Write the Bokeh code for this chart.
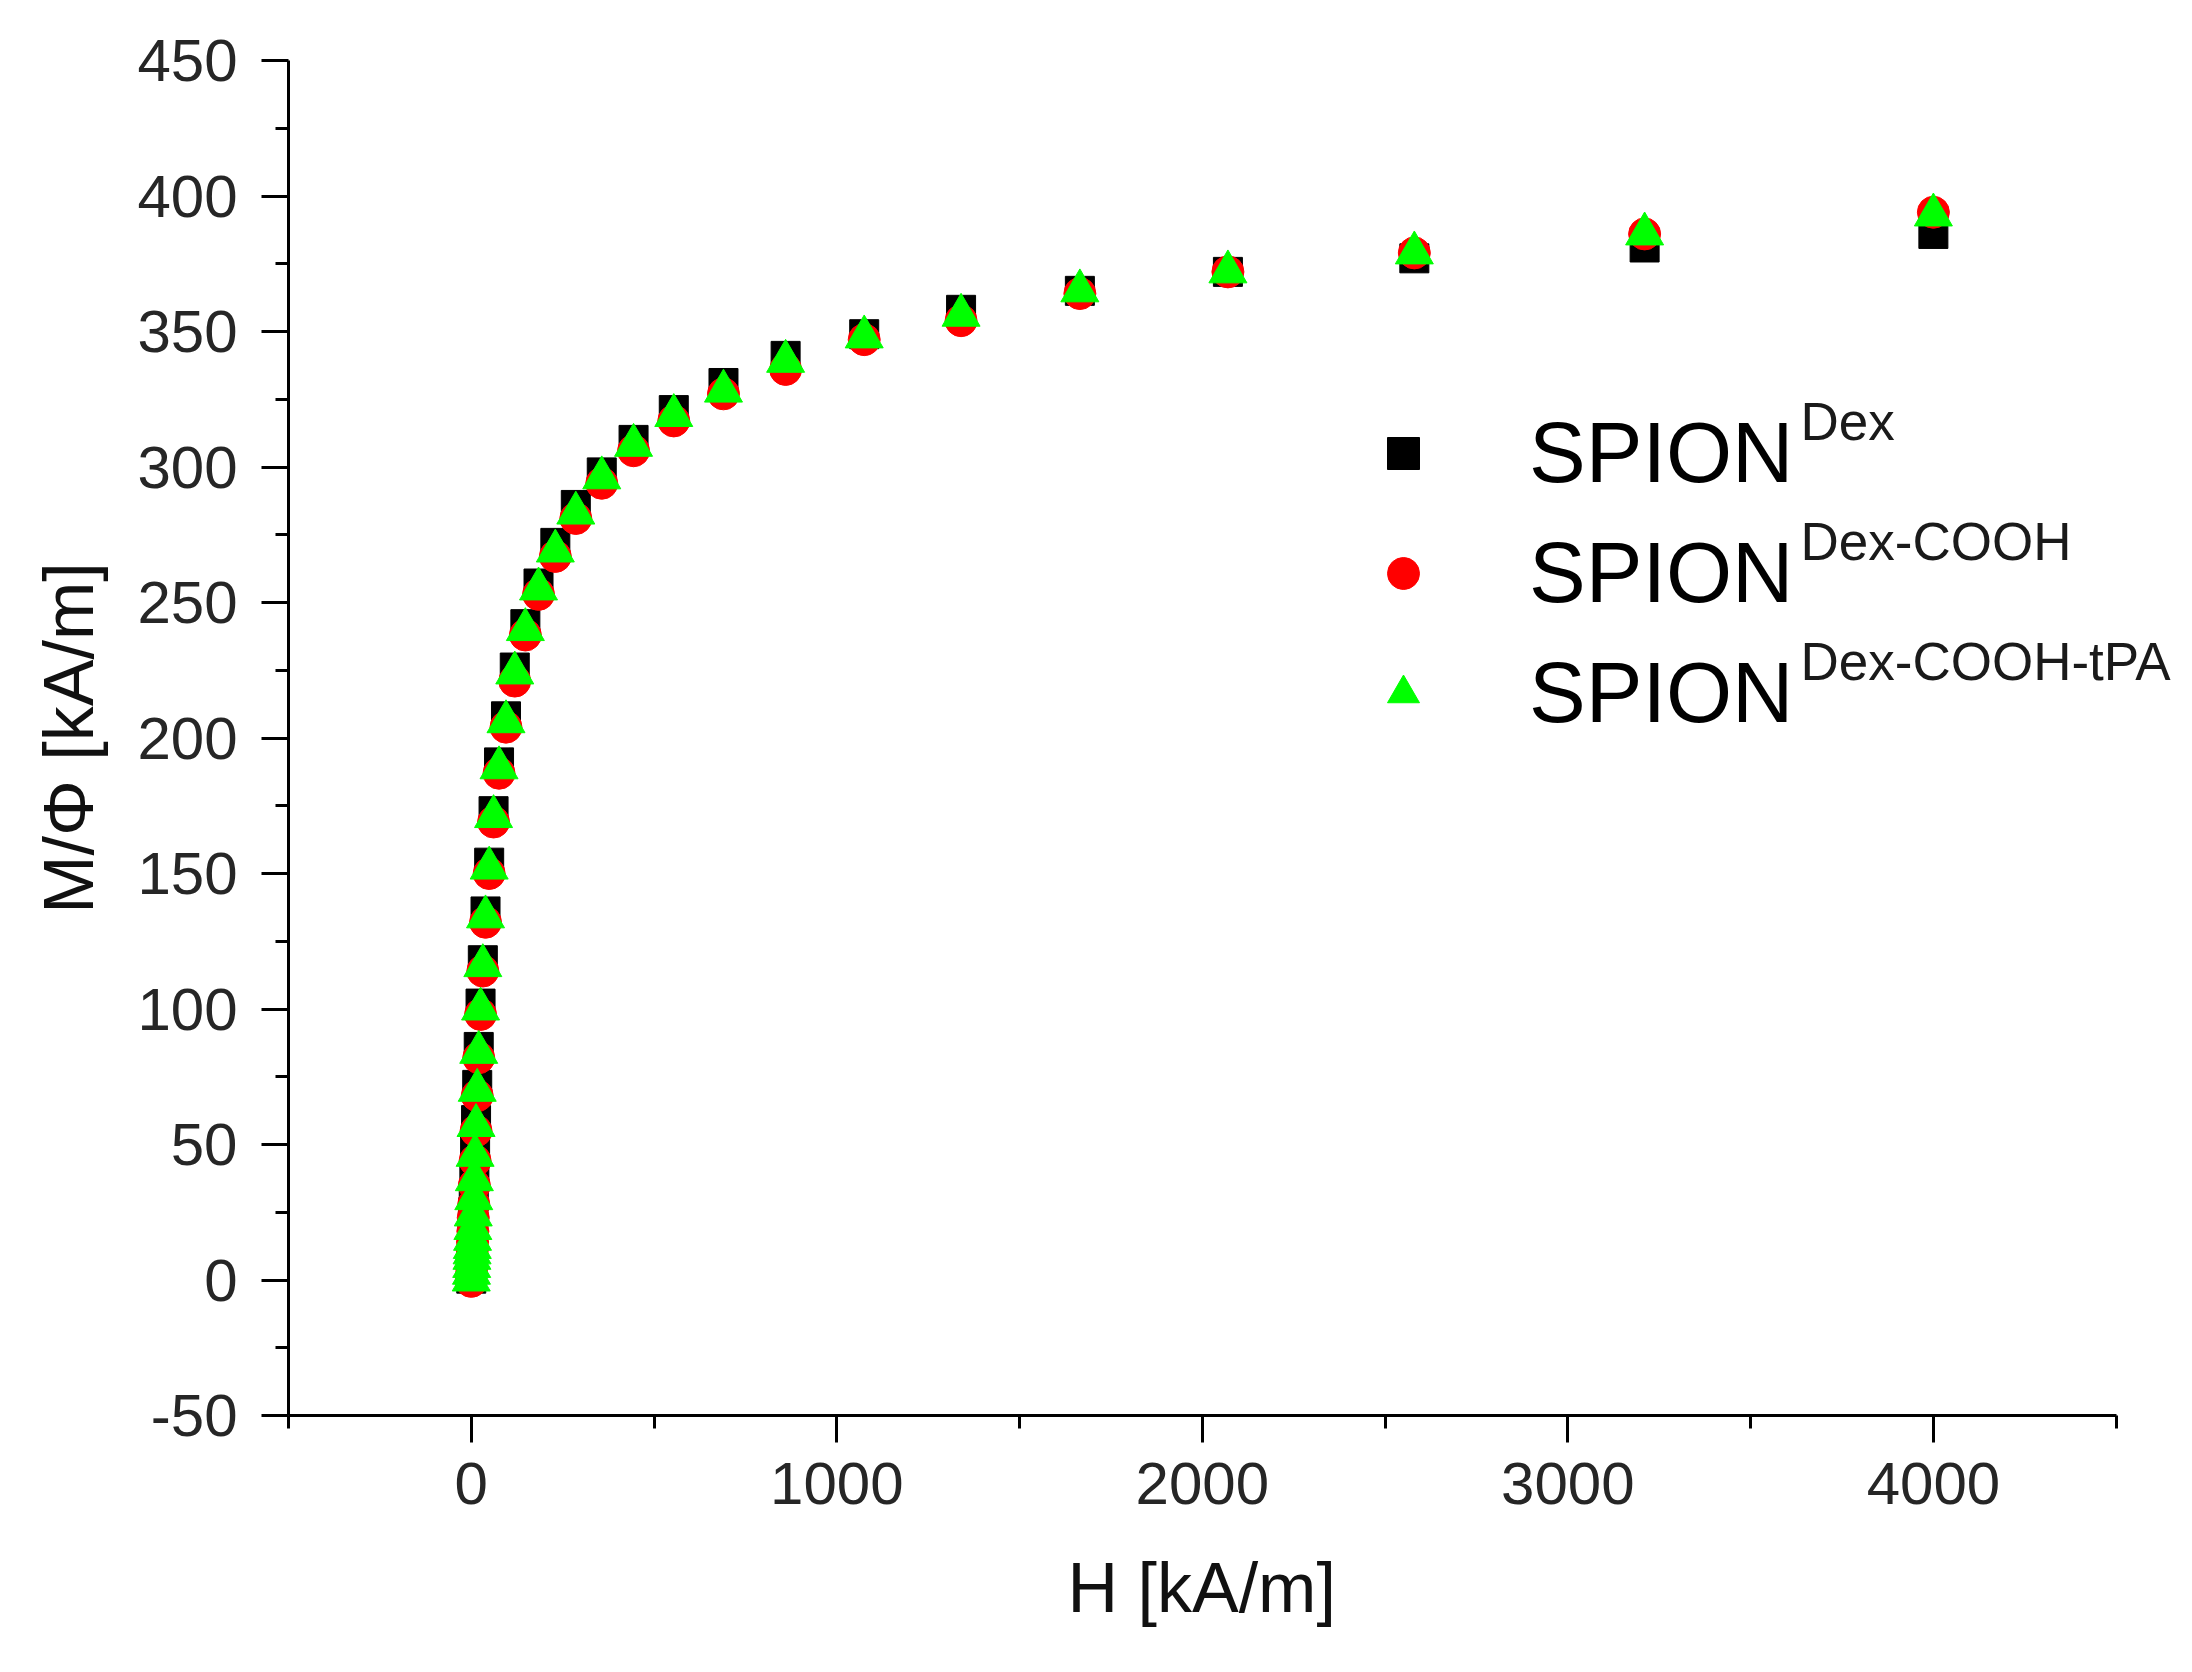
from bokeh.plotting import figure
from bokeh.models import Range1d, FixedTicker, Legend, LegendItem, Label, Title, ColumnDataSource
from bokeh.embed import file_html
from bokeh.resources import INLINE

# ---- data ----
H = [0.0, 0.6, 1.2, 1.8, 2.3, 2.8, 3.5, 4.4, 5.4, 6.8, 8.5, 10.5, 13.1, 16.3, 20.4,
     25.4, 31.6, 39, 49, 61, 76, 95, 119, 148, 184, 230, 286, 357, 444, 554, 690,
     860, 1075, 1340, 1665, 2070, 2580, 3210, 4000]

M_dex = [0.5, 3, 6, 8.5, 10.5, 13, 16, 20, 25, 31, 39, 48, 59, 72, 86,
         102, 118, 136, 154, 173, 191, 208, 226, 242, 257, 272, 286, 298, 310, 321, 331,
         341, 349, 358, 365, 372, 377, 381, 386]

M_cooh = [-0.5, 2, 4.5, 7, 9, 11, 14, 18, 23, 28, 35, 44, 55, 68, 82,
          98, 114, 132, 150, 169, 187, 204, 221, 238, 253, 267, 281, 294, 306, 317, 327,
          336, 347, 354, 364, 372, 379, 386, 394]

M_tpa = [0, 2.5, 5, 8, 10, 12, 15, 19, 24, 30, 37, 46, 57, 70, 84,
         100, 116, 134, 152, 171, 189, 206, 224, 240, 255, 269, 283, 296, 308, 319, 328,
         339, 348, 356, 365, 372, 379, 386, 393]

x_major = [0, 1000, 2000, 3000, 4000]
x_minor = [-500, 500, 1500, 2500, 3500, 4500]
y_major = [-50, 0, 50, 100, 150, 200, 250, 300, 350, 400, 450]
y_minor = [-25, 25, 75, 125, 175, 225, 275, 325, 375, 425]
y_labels = {v: str(v) for v in y_major}

series_names = ["SPION", "SPION", "SPION"]
series_sup = ["Dex", "Dex-COOH", "Dex-COOH-tPA"]

FONT = "Liberation Sans"

p = figure(width=2184, height=1670, output_backend="svg", toolbar_location=None,
           x_range=Range1d(-500, 4687), y_range=Range1d(-50, 450),
           min_border_left=288, min_border_right=0, min_border_top=60, min_border_bottom=253)
p.xgrid.visible = False
p.ygrid.visible = False
p.outline_line_color = None
p.background_fill_color = "white"
p.border_fill_color = "white"

src = ColumnDataSource(dict(H=H, a=M_dex, b=M_cooh, c=M_tpa))
r1 = p.scatter("H", "a", source=src, marker="square", size=29, color="#000000")
r2 = p.scatter("H", "b", source=src, marker="circle", size=32, color="#ff0000")
r3 = p.scatter("H", "c", source=src, marker="triangle", size=38, color="#00ff00")

for ax in (p.xaxis[0], p.yaxis[0]):
    ax.axis_line_width = 3
    ax.major_tick_line_width = 3
    ax.minor_tick_line_width = 3
    ax.major_tick_in = 0
    ax.major_tick_out = 27
    ax.minor_tick_in = 0
    ax.minor_tick_out = 13
    ax.major_label_text_font = FONT
    ax.major_label_text_font_size = "60px"
    ax.major_label_text_color = "#262626"
    ax.axis_label_text_font = FONT
    ax.axis_label_text_font_size = "70px"
    ax.axis_label_text_font_style = "normal"
    ax.axis_label_text_color = "#111111"

p.xaxis.bounds = (-500, 4500)
p.xaxis.ticker = FixedTicker(ticks=x_major, minor_ticks=x_minor)
p.yaxis.ticker = FixedTicker(ticks=y_major, minor_ticks=y_minor)
p.yaxis.major_label_overrides = y_labels
p.yaxis.axis_label = "M/\u03a6 [kA/m]"
p.xaxis.major_label_standoff = 20
p.yaxis.major_label_standoff = 24
p.yaxis.axis_label_standoff = 26

# x-axis title, centred under the axis line (not under the wider frame)
xt = Title(text="H [kA/m]", align="left", offset=779, vertical_align="top", standoff=84,
           text_font=FONT, text_font_size="70px", text_font_style="normal",
           text_color="#111111")
p.add_layout(xt, "below")

legend = Legend(items=[LegendItem(label=series_names[0], renderers=[r1]),
                       LegendItem(label=series_names[1], renderers=[r2]),
                       LegendItem(label=series_names[2], renderers=[r3])],
                location=(1075, 662), glyph_width=80, glyph_height=80, label_height=120,
                label_standoff=86, spacing=0, padding=0, margin=0,
                border_line_color=None, background_fill_alpha=0,
                label_text_font=FONT, label_text_font_size="85px", label_text_color="#000000")
p.add_layout(legend)

for i, sup in enumerate(series_sup):
    p.add_layout(Label(x=1512, y=994 - 120 * i, x_units="screen", y_units="screen",
                       text=sup, text_font=FONT, text_font_size="53px",
                       text_baseline="alphabetic", text_color="#1a1a1a"))

open("out.html", "w").write(file_html(p, INLINE))
